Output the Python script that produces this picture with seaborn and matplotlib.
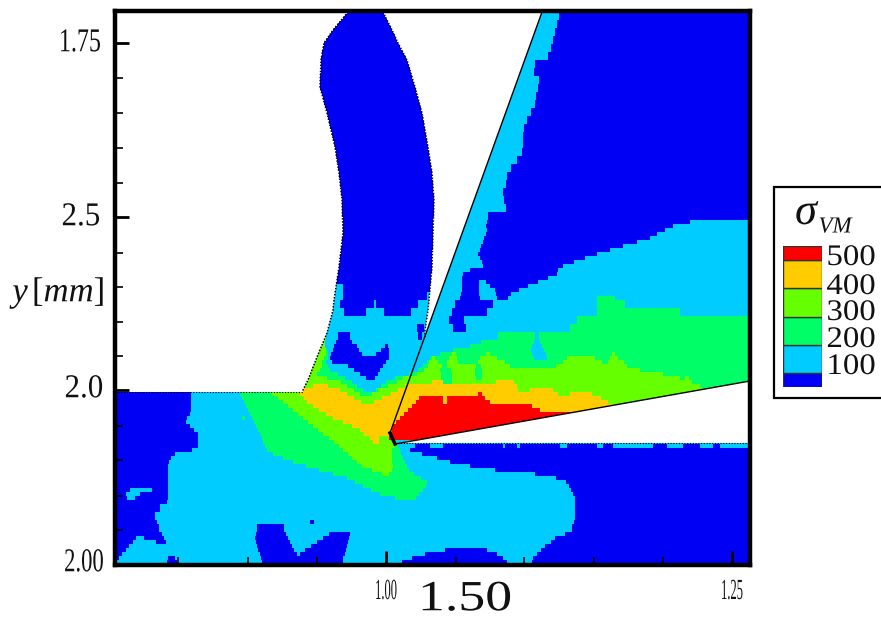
import numpy as np
import matplotlib
matplotlib.use("Agg")
import matplotlib.pyplot as plt
import matplotlib.patheffects as pe
from matplotlib.colors import ListedColormap
from matplotlib.patches import Rectangle
from matplotlib.transforms import Affine2D
import seaborn as sns

W, H = 881, 618
X0, X1, Y0, Y1 = 115, 750, 11, 565

plt.rcParams["font.family"] = ["Liberation Serif", "DejaVu Serif"]
plt.rcParams["mathtext.fontset"] = "custom"
plt.rcParams["mathtext.it"] = "Liberation Serif:italic"
plt.rcParams["mathtext.rm"] = "Liberation Serif"

# stress bands, low to high
band_keys = "bcglor"
band_colors = ["#0000f5", "#00ccff", "#00ff66", "#66ff00", "#ffcc00", "#ff0000"]
level_edges = [50, 100, 200, 300, 400, 500, 550]
level_labels = [100, 200, 300, 400, 500]

# each row: lower y of the strip, then band + x where that band stops
stress_rows = [
    "20 b438 c559 b750", "28 b438 c557 b750", "36 b438 c555 b750", "44 b438 c553 b750",
    "52 b438 c551 b750", "60 b438 c548 b750", "68 b438 c535 b750", "76 b438 c534 b750",
    "84 b438 c539 b750", "92 b438 c538 b750", "100 b438 c536 b750", "108 b438 c535 b750",
    "116 b438 c531 b750", "124 b438 c527 b750", "132 b438 c524 b750", "140 b438 c523 b750",
    "148 b438 c523 b750", "156 b438 c522 b750", "164 b438 c517 b750", "172 b438 c511 b750",
    "180 b438 c507 b750", "188 b438 c506 b750", "196 b438 c503 b750", "204 b438 c504 b750",
    "212 b438 c506 b750", "220 b438 c488 b750", "224 b438 c487 b690 c750",
    "228 b438 c486 b673 c750", "232 b438 c487 b665 c750", "236 b438 c486 b657 c750",
    "240 b438 c484 b650 c750", "244 b438 c483 b637 c750", "248 b438 c481 b623 c750",
    "252 b438 c480 b610 c750", "256 b438 c478 b597 c750", "260 b438 c480 b585 c750",
    "264 b438 c482 b574 c750", "268 b438 c483 b563 c750", "272 b438 c470 b558 c750",
    "276 b438 c463 b557 c750", "280 b438 c462 b548 c750", "284 b438 c462 b479 c486 b538 c750",
    "288 c343 b438 c462 b479 c490 b528 c750", "292 c343 b438 c462 b479 c495 b519 c750",
    "296 c343 b427 c461 b479 c496 b511 c750",
    "300 c343 b427 c460 b480 c497 b508 c597 g615 c750",
    "308 c340 b374 c376 b418 c455 b493 c597 g625 c750",
    "316 c344 b366 c384 b411 c452 b487 c597 g680 c750",
    "324 c449 b464 c577 g750", "332 c417 b424 c453 b466 c570 g750",
    "340 l326 c338 b350 c418 b422 c498 g535 c539 g750",
    "344 l325 c336 b352 c481 g534 c540 g750",
    "348 l325 c334 b357 c385 b388 c470 g532 c542 g750",
    "352 l326 g327 c333 b359 c381 b389 c453 g531 c544 g750",
    "356 l326 g328 c331 b362 c376 b389 c440 g452 l456 g486 l490 g532 c546 g612 l615 g750",
    "360 l324 g328 c330 b389 c430 g432 l435 g449 l457 g480 l497 g534 c547 g567 l595 g610 l618 g750",
    "364 l322 g326 c332 b386 c427 g429 l438 g447 l458 g478 l505 g563 l602 g608 l624 g750",
    "368 l322 g328 c348 b383 c423 g428 l442 g447 l476 g481 l510 g556 l627 g750",
    "372 l320 g330 c354 b380 c418 g424 l440 g451 l475 g482 l640 g750",
    "376 l317 g338 c360 b378 c409 g417 l441 g452 l475 g482 l663 g750",
    "380 l327 g345 c366 b375 c395 g403 l441 g452 l476 g482 l680 g685 l689 g750",
    "384 l341 g352 c386 g397 l432 o443 g452 l496 o514 l692 g750",
    "388 l313 o328 l347 g357 c381 g388 l405 o517 l700 g750",
    "392 b191 c238 g267 l297 o340 l354 g363 c376 g378 l398 o518 l530 o553 l750",
    "396 b191 c240 g272 l300 o347 l360 g372 l391 o478 r482 o558 l570 o592 l750",
    "400 b191 c242 g278 l304 o354 l382 o419 r443 o447 r485 o601 l750",
    "404 b191 c244 g283 l307 o361 l374 o416 r443 o447 r490 o608 l750",
    "408 b191 c246 g288 l313 o412 r532 o750",
    "412 b191 c248 g293 l319 o408 r540 o750",
    "416 b190 c250 g298 l326 o404 r750",
    "420 b187 c242 g245 c252 g303 l333 o400 r750",
    "424 b186 c254 g308 l343 o396 r750",
    "428 b190 c256 g313 l352 o393 r750",
    "432 b194 c258 g318 l360 o392 r750",
    "436 b198 c260 g323 l364 o390 r750",
    "440 b198 c262 g329 l370 o379 l389 r750",
    "444 b198 c263 g334 l373 o379 l395 g397 c750",
    "448 b198 c265 g339 l395 g398 c415 b430 c443 b503 c505 b517 c520 b560 c567 b597 c603 b613 c653 b667 c683 b700 c713 b720 c748 b750",
    "452 b192 c267 g343 l392 g400 c410 b750",
    "456 b175 c273 g348 l392 g401 c422 b750",
    "460 b171 c283 g352 l392 g403 c437 b750",
    "464 b169 c293 g357 l392 g405 c450 b750",
    "468 b168 c306 g362 l393 g407 c470 b750",
    "472 b168 c319 g372 l392 g409 c495 b750",
    "476 b168 c333 g382 l389 g414 c535 b750",
    "480 b168 c347 g421 c556 b750",
    "484 b168 c355 g427 c566 b750",
    "488 b168 c363 g426 c569 b750",
    "492 b130 c152 b168 c371 g423 c571 b750",
    "496 b126 c140 b168 c380 g419 c573 b750",
    "500 b127 c135 b168 c395 g416 c575 b750",
    "504 b167 c575 b750", "512 b160 c575 b750", "520 b155 c575 b750",
    "524 b157 c310 b314 c574 b750",
    "532 b159 c257 b284 c572 b750",
    "536 b162 c256 b286 c329 b350 c565 b750",
    "540 b136 c144 b164 c255 b288 c323 b349 c555 b750",
    "544 b133 c156 b166 c256 b290 c317 b348 c551 b750",
    "548 b129 c257 b292 c311 b347 c545 b750",
    "552 b126 c258 b294 c305 b346 c445 b487 c541 b750",
    "556 b122 c260 b297 c300 b345 c425 b497 c537 b750",
    "560 b119 c168 b175 c261 b343 c412 b503 c533 b750",
    "566 b117 c167 b177 c262 b343 c402 b507 c532 b750",
]

# chip outline
chip_y = [12, 30, 43, 60, 87, 113, 147, 173, 200, 233, 267, 300, 310, 333, 357, 380, 390, 392]
chip_left = [348, 333, 324, 321, 320, 327, 335, 339, 342, 343, 339, 334, 333, 327, 317, 308, 303, 303]
chip_right_y = [12, 30, 43, 60, 87, 113, 147, 173, 200, 233, 267, 300, 310, 330, 337]
chip_right = [383, 392, 398, 407, 415, 422, 428, 432, 434, 433, 432, 429, 428, 425, 425]

# tool edges
rake_x = [390, 542]
rake_y = [433, 12]
flank_x = [395, 750]
flank_y = [444, 381]
tip_x = [390, 395]
tip_y = [433, 444]
surface_x = [115, 303]
surface_y = [392, 392]
cut_x = [395, 750]
cut_y = [443, 443]

x_major = [386, 732]
x_minor = [178, 248, 317, 456, 524, 594, 663]
y_major = [43, 217, 390, 564]
y_minor = [78, 113, 148, 183, 253, 287, 322, 356, 426, 460, 496, 530]

# build the field
n_rows, n_cols = Y1 - Y0, X1 - X0
field = np.zeros((n_rows, n_cols))
top = Y0
for row in stress_rows:
    parts = row.split()
    bottom = min(int(parts[0]), Y1)
    start = X0
    for tok in parts[1:]:
        end = int(tok[1:])
        field[top - Y0:bottom - Y0, start - X0:end - X0] = band_keys.index(tok[0])
        start = end
    top = bottom

# blank areas: air left of the chip, gap chip/tool, gap under the flank
px, py = np.meshgrid(np.arange(X0, X1) + 0.5, np.arange(Y0, Y1) + 0.5)
blank = py < 12
blank |= (py < 392) & (px < np.interp(py, chip_y, chip_left))
tool_edge = np.interp(py, rake_y[::-1], rake_x[::-1])
blank |= (py < 337) & (px > np.interp(py, chip_right_y, chip_right)) & (px < tool_edge)
blank |= (px > 395) & (py < 443) & (py > np.interp(px, flank_x, flank_y))

fig = plt.figure(figsize=(W / 100, H / 100), dpi=100)
ax = fig.add_axes([X0 / W, 1 - Y1 / H, (X1 - X0) / W, (Y1 - Y0) / H])
sns.heatmap(field, mask=blank, cmap=ListedColormap(band_colors), vmin=-0.5, vmax=5.5,
            cbar=False, xticklabels=False, yticklabels=False, ax=ax)


def trace(xs, ys, **kw):
    sns.lineplot(x=np.array(xs) - X0, y=np.array(ys) - Y0, sort=False, estimator=None,
                 color="k", ax=ax, legend=False, **kw)


trace(rake_x, rake_y, linewidth=1.0)
trace(flank_x, flank_y, linewidth=1.0)
trace(tip_x, tip_y, linewidth=2.5)
trace(chip_left, chip_y, linewidth=1.1, linestyle=(0, (1, 1)))
trace(chip_right, chip_right_y, linewidth=1.1, linestyle=(0, (1, 1)))
trace(surface_x, surface_y, linewidth=0.8, linestyle=(0, (1, 1.5)))
trace(cut_x, cut_y, linewidth=0.8, linestyle=(0, (1, 1.5)))
ax.set_xlim(0, n_cols)
ax.set_ylim(n_rows, 0)

for sp in ax.spines.values():
    sp.set_visible(True)
    sp.set_linewidth(3.2)
ax.set_xticks(np.array(x_major) - X0)
ax.set_xticks(np.array(x_minor) - X0, minor=True)
ax.set_yticks(np.array(y_major) - Y0)
ax.set_yticks(np.array(y_minor) - Y0, minor=True)
ax.set_xticklabels([])
ax.set_yticklabels([])
ax.tick_params(which="major", direction="in", length=10, width=2, color="k")
ax.tick_params(which="minor", direction="in", length=5.5, width=1.2, color="k")


class Stretch(pe.AbstractPathEffect):
    # tecplot-style squeezed labels
    def __init__(self, sx, cx):
        super().__init__()
        self.sx, self.cx = sx, cx

    def draw_path(self, renderer, gc, tpath, affine, rgbFace=None):
        t = affine + Affine2D().translate(-self.cx, 0).scale(self.sx, 1).translate(self.cx, 0)
        renderer.draw_path(gc, tpath, t, rgbFace)


def label(x, y, s, size, sx=1.0, **kw):
    fig.text(x / W, 1 - y / H, s, fontsize=size, ha="center", va="center", color="#111111",
             path_effects=[Stretch(sx, x)], **kw)


label(80, 43, "1.75", 24, 0.72)
label(81, 217, "2.5", 24, 0.93)
label(84, 389, "2.0", 24, 0.93)
label(84, 563, "2.00", 24, 0.68)
label(386, 592, "1.00", 21, 0.43)
label(732, 592, "1.25", 21, 0.43)
label(465, 600, "1.50", 31, 1.25)
label(60, 293, "$y\\,[mm]$", 25)

# legend box, runs off the right edge
fig.add_artist(Rectangle((774 / W, 1 - 398 / H), 130 / W, 211 / H, transform=fig.transFigure,
                         facecolor="white", edgecolor="k", linewidth=1.6))
cax = fig.add_axes([783 / W, 1 - 387 / H, 39 / W, 141 / H], zorder=3)
cax.bar([0] * len(band_colors), np.diff(level_edges), bottom=level_edges[:-1], width=1,
        color=band_colors, edgecolor="#333333", linewidth=1)
cax.set_xlim(-0.5, 0.5)
cax.set_ylim(level_edges[0], level_edges[-1])
cax.axis("off")
for val, yp in zip(level_labels, [367, 340, 313, 287, 258]):
    label(851, yp, str(val), 21.5, 1.1, zorder=4)
label(806, 213, "σ", 32, style="italic", zorder=4)
label(835, 227, "VM", 16.5, style="italic", zorder=4)

fig.savefig("out.png", dpi=100)
